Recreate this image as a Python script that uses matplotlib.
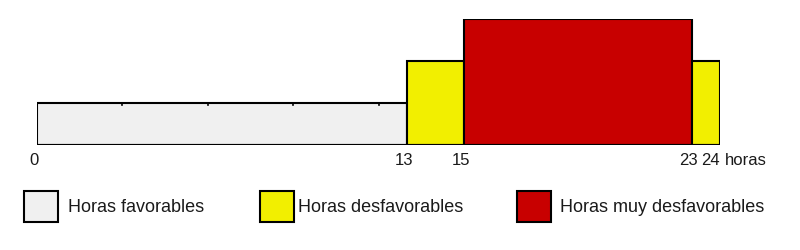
import matplotlib
matplotlib.use("Agg")
import matplotlib.pyplot as plt
import matplotlib.transforms as mtransforms
from matplotlib.patches import Rectangle

plt.rcParams['font.family'] = ['Liberation Sans', 'DejaVu Sans']

# hour segments: start, end, level (1 = favorable, 2 = desfavorable, 3 = muy desfavorable)
seg_start = [0, 13, 15, 23]
seg_end = [13, 15, 23, 24]
seg_level = [1, 2, 3, 2]

level_names = ["Horas favorables", "Horas desfavorables", "Horas muy desfavorables"]
level_colors = ["#f0f0f0", "#f2ef00", "#c80000"]

hour_labels = [0, 13, 15, 23, 24]
minor_ticks = [3, 6, 9, 12]

fig = plt.figure(figsize=(8, 2.5), dpi=100)
ax = fig.add_axes([37 / 800, 105 / 250, 683 / 800, 126 / 250])

for s, e, lv in zip(seg_start, seg_end, seg_level):
    ax.bar(s, lv, width=e - s, align="edge", color=level_colors[lv - 1],
           edgecolor="black", linewidth=1.5, zorder=2)

# little ticks on top of the favorable block
for t in minor_ticks:
    ax.plot([t, t], [1, 0.95], color="black", lw=1.2, zorder=3)

ax.plot([0, 24], [0, 0], color="black", lw=1.5, zorder=3)

ax.set_xlim(0, 24)
ax.set_ylim(0, 3)
ax.axis("off")

trans = mtransforms.offset_copy(ax.transData, fig=fig, x=-2, y=-6, units="points")
trans_last = mtransforms.offset_copy(ax.transData, fig=fig, x=0, y=-6, units="points")
for h in hour_labels:
    if h == hour_labels[-1]:
        # last label sits just left of the end so "horas" fits after it
        ax.text(h, 0, str(h), transform=trans_last, ha="right", va="top",
                fontsize=12, color="#1a1a1a")
    else:
        ax.text(h, 0, str(h), transform=trans, ha="center", va="top",
                fontsize=12, color="#1a1a1a")
trans2 = mtransforms.offset_copy(ax.transData, fig=fig, x=3.5, y=-6, units="points")
ax.text(24, 0, "horas", transform=trans2, ha="left", va="top",
        fontsize=12, color="#1a1a1a")

# legend drawn in a pixel-based overlay
lax = fig.add_axes([0, 0, 1, 1])
lax.set_xlim(0, 800)
lax.set_ylim(250, 0)
lax.axis("off")
box_x = [24, 260, 517]
text_x = [68, 298, 560]
for bx, tx, name, col in zip(box_x, text_x, level_names, level_colors):
    lax.add_patch(Rectangle((bx, 191), 34, 31, facecolor=col, edgecolor="black", lw=1.5))
    lax.text(tx, 207, name, ha="left", va="center", fontsize=13, color="#1a1a1a")

fig.savefig("out.png", dpi=100)
